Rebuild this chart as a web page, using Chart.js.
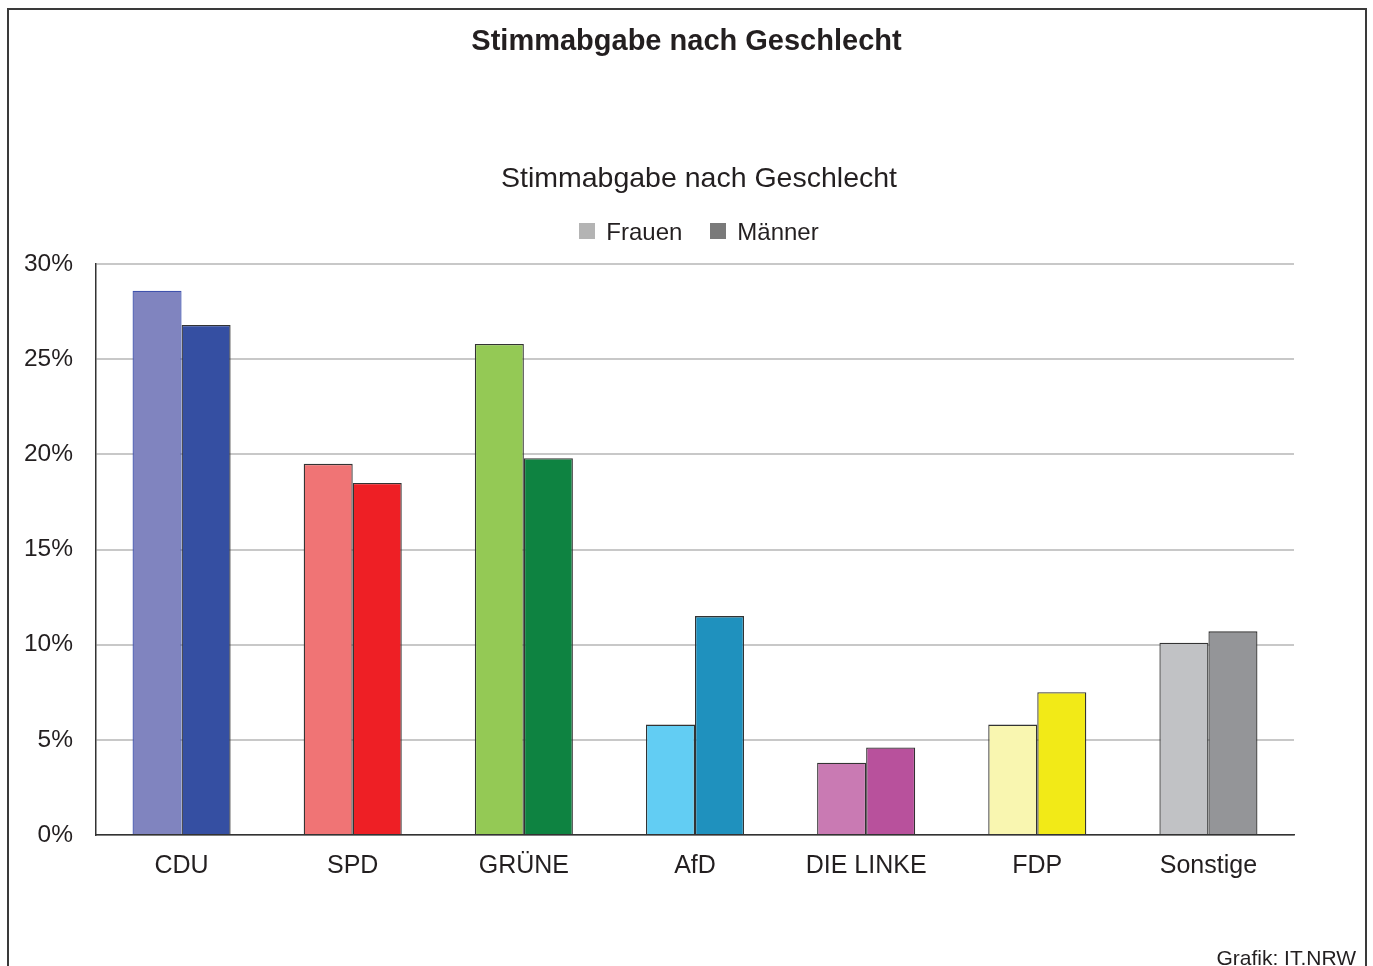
<!DOCTYPE html>
<html lang="de">
<head>
<meta charset="utf-8">
<script src="https://cdn.jsdelivr.net/npm/chart.js@4/dist/chart.umd.min.js"></script>
<style>
    html, body { margin: 0; padding: 0; background: #fff; overflow: hidden; }
    body { width: 1373px; height: 966px; position: relative; font-family: "Liberation Sans", Arial, sans-serif; color: #231f20; }
    #frame { position: absolute; left: 7px; top: 8px; width: 1356px; height: 1000px; border: 2px solid #3a3a3a; }
    #chartBox { position: absolute; left: 0; top: 0; width: 1373px; height: 966px; }
    .txt { position: absolute; line-height: 1; white-space: nowrap; }
    #head { left: 0; width: 1373px; top: 26px; text-align: center; font-weight: bold; font-size: 29px; }
    #sub { left: 0; width: 1398px; top: 163px; text-align: center; font-size: 28.5px; }
    #legend { left: 0; width: 1398px; top: 220px; text-align: center; font-size: 24px; }
    #legend span.item { display: inline-block; margin: 0 14px; }
    #legend i { display: inline-block; width: 16px; height: 16px; margin-right: 11px; vertical-align: 1px; }
    #source { right: 17px; top: 947px; font-size: 21px; }
</style>
</head>
<body>
<div id="frame"></div>
<div id="chartBox"><canvas id="chart"></canvas></div>
<div class="txt" id="head">Stimmabgabe nach Geschlecht</div>
<div class="txt" id="sub">Stimmabgabe nach Geschlecht</div>
<div class="txt" id="legend"></div>
<div class="txt" id="source">Grafik: IT.NRW</div>
<script>
// Stimmanteile in Prozent
const categories = ["CDU", "SPD", "GRÜNE", "AfD", "DIE LINKE", "FDP", "Sonstige"];
const frauenValues = [28.6, 19.5, 25.8, 5.8, 3.8, 5.8, 10.1];
const maennerValues = [26.8, 18.5, 19.8, 11.5, 4.6, 7.5, 10.7];
const yTicks = [0, 5, 10, 15, 20, 25, 30];
const seriesNames = ["Frauen", "Männer"];

// Parteifarben, hell = Frauen, dunkel = Männer
const frauenColors = ["#8084bf", "#f07475", "#94c955", "#62cdf3", "#c97ab3", "#f9f6b0", "#c1c2c5"];
const maennerColors = ["#354fa2", "#ee1f25", "#0e8341", "#1f91be", "#b8519c", "#f2ea17", "#949598"];
const frauenBorders = ["#3f52ad", "#333", "#333", "#333", "#333", "#333", "#333"];
const legendColors = ["#b4b4b4", "#7a7a7a"];

const font = "'Liberation Sans', Arial, sans-serif";
const textColor = "#231f20";

// Legende als HTML (grau, unabhängig von den Parteifarben)
document.getElementById("legend").innerHTML = seriesNames
    .map((name, i) => `<span class="item"><i style="background:${legendColors[i]}"></i>${name}</span>`)
    .join("");

const ctx = document.getElementById("chart").getContext("2d");
new Chart(ctx, {
    type: "bar",
    data: {
        labels: categories,
        datasets: [
            {
                label: seriesNames[0],
                data: frauenValues,
                backgroundColor: frauenColors,
                borderColor: frauenBorders,
                borderWidth: 1.3,
            },
            {
                label: seriesNames[1],
                data: maennerValues,
                backgroundColor: maennerColors,
                borderColor: "#333",
                borderWidth: 1.3,
            },
        ],
    },
    options: {
        responsive: true,
        maintainAspectRatio: false,
        animation: false,
        datasets: {
            bar: {
                categoryPercentage: 0.573,
                barPercentage: 1,
            },
        },
        layout: {
            padding: { left: 8, right: 79, top: 264, bottom: 87 },
        },
        plugins: {
            tooltip: { enabled: false },
            legend: { display: false },
        },
        scales: {
            x: {
                afterFit: (scale) => { scale.height = 44; },
                grid: { display: false, drawTicks: false },
                border: { color: "#333", width: 1.5 },
                ticks: {
                    color: textColor,
                    font: { family: font, size: 25 },
                    padding: 16,
                },
            },
            y: {
                min: 0,
                max: 30,
                afterFit: (scale) => { scale.width = 88; },
                afterBuildTicks: (scale) => { scale.ticks = yTicks.map((v) => ({ value: v })); },
                grid: { color: "#c8c8c8", lineWidth: 2, drawTicks: false },
                border: { color: "#333", width: 1.5 },
                ticks: {
                    color: textColor,
                    font: { family: font, size: 24.5 },
                    padding: 23,
                    callback: (v) => v + "%",
                },
            },
        },
    },
});
</script>
</body>
</html>
